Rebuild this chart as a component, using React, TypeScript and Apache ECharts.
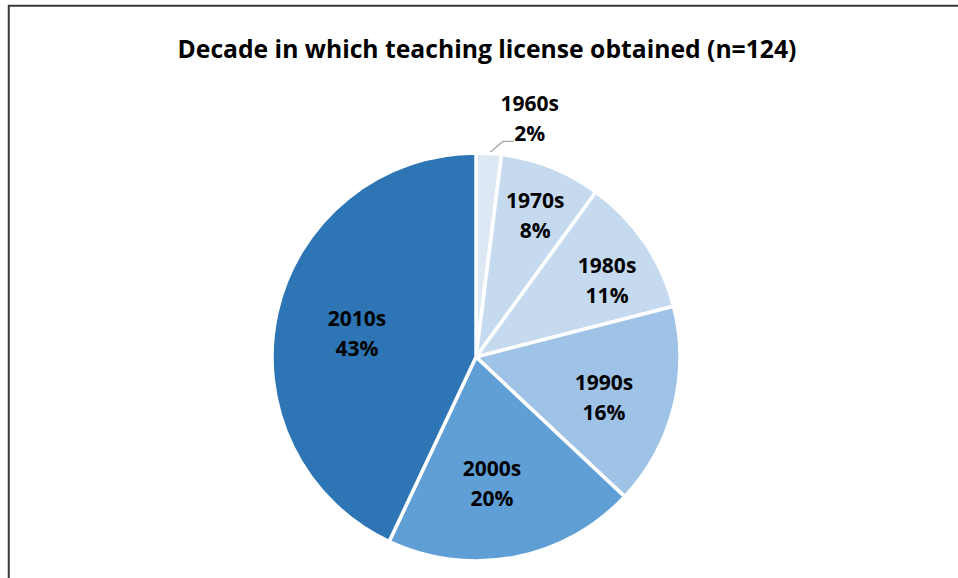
import React, { useEffect, useRef } from "react";
import * as echarts from "echarts";

const TITLE = "Decade in which teaching license obtained (n=124)";
const categories = ["1960s", "1970s", "1980s", "1990s", "2000s", "2010s"];
const percents = [2, 8, 11, 16, 20, 43];
const colors = ["#DDE8F5", "#C5DAEF", "#C5DAEF", "#9FC3E6", "#5F9FD6", "#2E75B5"];

const CX = 476;
const CY = 357;
const R = 204;
// radial position of inside labels as fraction of radius, and angular nudge (deg)
const labelRadius = [0, 0.755, 0.745, 0.657, 0.623, 0.595];
const labelAngleShift = [0, 1, 3.8, 3, 3.6, -1.2];

const FONT = "'Open Sans', 'DejaVu Sans', sans-serif";

export default function App() {
  const ref = useRef<HTMLDivElement>(null);
  useEffect(() => {
    if (!ref.current) return;
    const chart = echarts.init(ref.current, undefined, { renderer: "svg" });
    const total = percents.reduce((a, b) => a + b, 0);
    const midAngles: number[] = [];
    let acc = 0;
    percents.forEach((v) => {
      midAngles.push(((acc + v / 2) / total) * Math.PI * 2);
      acc += v;
    });

    chart.setOption({
      animation: false,
      backgroundColor: "#ffffff",
      graphic: [
        {
          type: "rect",
          shape: { x: 8.75, y: 5.75, width: 1200, height: 800 },
          style: { fill: "none", stroke: "#3a3a3a", lineWidth: 2 },
          silent: true,
        },
        {
          type: "text",
          style: {
            text: TITLE,
            x: 487,
            y: 48,
            align: "center",
            verticalAlign: "middle",
            font: `bold 24.7px ${FONT}`,
            fill: "#000000",
          },
        },
      ],
      series: [
        {
          type: "pie",
          center: [CX, CY],
          radius: R,
          startAngle: 90,
          clockwise: true,
          avoidLabelOverlap: false,
          itemStyle: { borderColor: "#ffffff", borderWidth: 3.5 },
          label: {
            show: true,
            formatter: (p: any) => `${p.name}\n${p.value}%`,
            fontFamily: FONT,
            fontWeight: "bold",
            fontSize: 21,
            lineHeight: 30,
            color: "#000000",
            align: "center",
            verticalAlign: "middle",
          },
          labelLine: { show: false },
          labelLayout: (params: any) => {
            const i = params.dataIndex;
            const a = midAngles[i];
            if (i === 0) {
              const p1x = CX + R * Math.sin(a);
              const p1y = CY - R * Math.cos(a);
              const p2x = p1x + 14;
              const p2y = p1y - 12;
              const p3x = p2x + 11;
              return {
                x: p3x + 16,
                y: p2y - 23,
                align: "center",
                verticalAlign: "middle",
                labelLinePoints: [
                  [p1x, p1y],
                  [p2x, p2y],
                  [p3x, p2y],
                ],
              };
            }
            const r = R * labelRadius[i];
            const aa = a + (labelAngleShift[i] * Math.PI) / 180;
            return {
              x: CX + r * Math.sin(aa),
              y: CY - r * Math.cos(aa),
              align: "center",
              verticalAlign: "middle",
            };
          },
          data: categories.map((name, i) => ({
            name,
            value: percents[i],
            itemStyle: { color: colors[i] },
            label: { position: i === 0 ? "outside" : "inside" },
            labelLine: {
              show: i === 0,
              length: 10,
              length2: 10,
              lineStyle: { color: "#A6A6A6", width: 1.3 },
            },
          })),
        },
      ],
    });
    return () => chart.dispose();
  }, []);
  return (
    <div
      ref={ref}
      style={{ position: "fixed", left: 0, top: 0, width: 958, height: 578, background: "#fff" }}
    />
  );
}
